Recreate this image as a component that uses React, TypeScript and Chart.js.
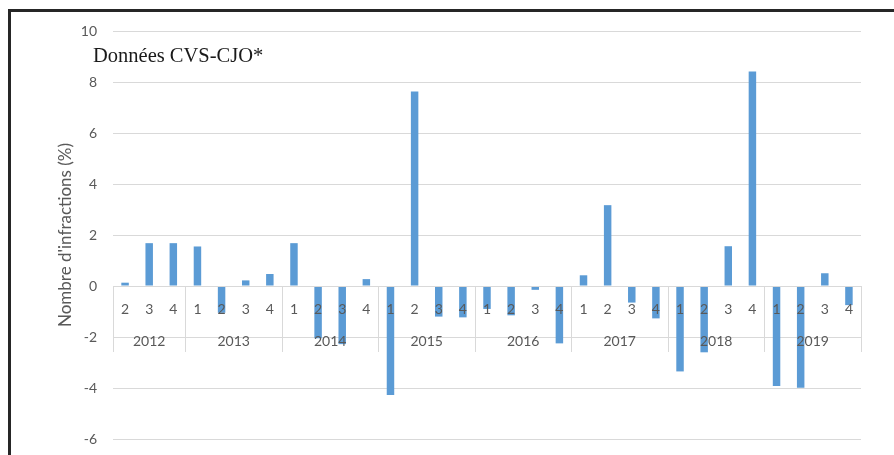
import React, { useEffect, useRef } from "react";
import { Chart, registerables } from "chart.js";

Chart.register(...registerables);

const years = ["2012", "2013", "2014", "2015", "2016", "2017", "2018", "2019"];
const quartersPerYear = [3, 4, 4, 4, 4, 4, 4, 4];
const quarterLabels = [
  "2", "3", "4",
  "1", "2", "3", "4",
  "1", "2", "3", "4",
  "1", "2", "3", "4",
  "1", "2", "3", "4",
  "1", "2", "3", "4",
  "1", "2", "3", "4",
  "1", "2", "3", "4",
];
const values = [
  0.13, 1.68, 1.68,
  1.55, -1.05, 0.22, 0.47,
  1.68, -2.05, -2.28, 0.27,
  -4.27, 7.63, -1.2, -1.23,
  -0.9, -1.15, -0.15, -2.25,
  0.42, 3.17, -0.65, -1.27,
  -3.35, -2.6, 1.56, 8.41,
  -3.92, -3.99, 0.5, -0.75,
];
const yTicks = [-6, -4, -2, 0, 2, 4, 6, 8, 10];
const yTitle = "Nombre d'infractions (%)";
const note = "Données CVS-CJO*";

const GRID = "#d9d9d9";
const TEXT = "#595959";
const FONT = "Lato";

const categoryAxisPlugin = {
  id: "categoryAxis",
  afterDraw(chart: any) {
    const ctx = chart.ctx;
    const x = chart.scales.x;
    const y = chart.scales.y;
    const zeroY = y.getPixelForValue(0);
    const half = (x.getPixelForValue(1) - x.getPixelForValue(0)) / 2;
    const lineBottom = zeroY + 66;
    const quarterY = zeroY + 23;
    const yearY = zeroY + 55;
    ctx.save();
    ctx.strokeStyle = GRID;
    ctx.lineWidth = 1;
    const drawSep = (px: number) => {
      const xx = Math.round(px) + 0.5;
      ctx.beginPath();
      ctx.moveTo(xx, zeroY);
      ctx.lineTo(xx, lineBottom);
      ctx.stroke();
    };
    ctx.beginPath();
    ctx.moveTo(x.left, Math.round(zeroY) + 0.5);
    ctx.lineTo(x.right, Math.round(zeroY) + 0.5);
    ctx.stroke();
    drawSep(x.getPixelForValue(0) - half);
    ctx.fillStyle = TEXT;
    ctx.font = `14px ${FONT}`;
    ctx.textAlign = "center";
    ctx.textBaseline = "middle";
    quarterLabels.forEach((q, i) => {
      ctx.fillText(q, x.getPixelForValue(i), quarterY);
    });
    let idx = 0;
    years.forEach((yr, i) => {
      const n = quartersPerYear[i];
      const start = x.getPixelForValue(idx) - half;
      const end = x.getPixelForValue(idx + n - 1) + half;
      drawSep(end);
      ctx.fillText(yr, (start + end) / 2, yearY);
      idx += n;
    });
    ctx.restore();
  },
};

export default function App() {
  const ref = useRef<HTMLCanvasElement | null>(null);
  useEffect(() => {
    if (!ref.current) return;
    const chart = new Chart(ref.current, {
      type: "bar",
      data: {
        labels: quarterLabels,
        datasets: [
          {
            data: values,
            backgroundColor: "#5B9BD5",
            borderWidth: 0,
            barPercentage: 0.31,
            categoryPercentage: 1,
          },
        ],
      },
      plugins: [categoryAxisPlugin],
      options: {
        animation: false,
        responsive: false,
        layout: { padding: { top: 31, right: 33, bottom: 16, left: 0 } },
        plugins: { legend: { display: false }, tooltip: { enabled: false } },
        scales: {
          x: {
            display: false,
          },
          y: {
            min: -6,
            max: 10,
            afterFit(scale: any) {
              scale.width = 113;
              scale.paddingTop = 0;
              scale.paddingBottom = 0;
            },
            afterBuildTicks(scale: any) {
              scale.ticks = yTicks.map((v) => ({ value: v }));
            },
            grid: { color: GRID, drawTicks: false, lineWidth: 1 },
            border: { display: false },
            ticks: {
              color: TEXT,
              font: { family: FONT, size: 14 },
              padding: 16,
            },
            title: {
              display: true,
              text: yTitle,
              color: TEXT,
              font: { family: FONT, size: 17 },
              padding: { top: 55, bottom: 0 },
            },
          },
        },
      },
    });
    return () => chart.destroy();
  }, []);

  return (
    <div
      style={{
        position: "fixed",
        left: 0,
        top: 0,
        width: 894,
        height: 455,
        overflow: "hidden",
        background: "#fff",
      }}
    >
      <div
        style={{
          position: "absolute",
          left: 8,
          top: 9,
          width: 1000,
          height: 1000,
          borderLeft: "3px solid #262626",
          borderTop: "3px solid #262626",
        }}
      />
      <canvas
        ref={ref}
        width={894}
        height={455}
        style={{ position: "absolute", left: 0, top: 0, width: 894, height: 455 }}
      />
      <div
        style={{
          position: "absolute",
          left: 93,
          top: 44,
          fontFamily: "'Liberation Serif', serif",
          fontSize: 20.5,
          lineHeight: "22px",
          color: "#1a1a1a",
          whiteSpace: "nowrap",
        }}
      >
        {note}
      </div>
    </div>
  );
}
